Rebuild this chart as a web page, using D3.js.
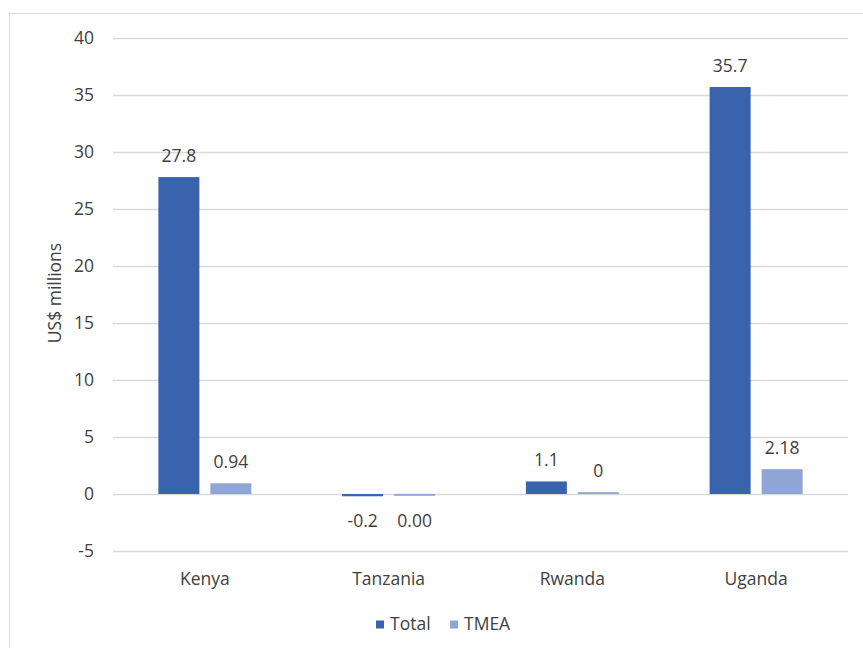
<!DOCTYPE html>
<html>
<head>
<meta charset="utf-8">
<script src="https://cdn.jsdelivr.net/npm/d3@7"></script>
<style>
  html, body { margin: 0; padding: 0; background: #fff; }
  svg { display: block; font-family: "Open Sans", "DejaVu Sans", sans-serif; }
</style>
</head>
<body>
<svg id="chart" width="863" height="648"></svg>
<script>
// Countries on the x axis
const countries = ["Kenya", "Tanzania", "Rwanda", "Uganda"];
// Series values, US$ millions
const totalValues = [27.8, -0.2, 1.1, 35.7];
const tmeaValues = [0.94, -0.004, 0, 2.18];
// Decimal places shown in each data label
const totalDecimals = [1, 1, 1, 1];
const tmeaDecimals = [2, 2, 0, 2];
// Y axis ticks
const yTicks = [-5, 0, 5, 10, 15, 20, 25, 30, 35, 40];
const seriesNames = ["Total", "TMEA"];

const colors = { Total: "#3a63ad", TMEA: "#8fa5d6" };
const textColor = "#404040";
const gridColor = "#d9d9d9";
const fontSize = 17.5;

// Plain hyphen for negatives
const fmt = (d, p) => d3.format(`.${p}f`)(d).replace("\u2212", "-");

const svg = d3.select("#chart");

// Chart frame
svg.append("rect")
  .attr("x", 9.5).attr("y", 13.5)
  .attr("width", 870).attr("height", 660)
  .attr("fill", "none").attr("stroke", "#d9d9d9").attr("stroke-width", 1);

const plot = { left: 113, right: 848, top: 38, bottom: 551 };

const x = d3.scaleBand().domain(countries).range([plot.left, plot.right]);
const y = d3.scaleLinear().domain([-5, 40]).range([plot.bottom, plot.top]);
const inner = d3.scaleBand().domain(seriesNames).range([0, x.bandwidth()])
  .paddingInner(0.2115).paddingOuter(0.8726);

// Gridlines and y tick labels
const yAxis = d3.axisLeft(y).tickValues(yTicks).tickSize(-(plot.right - plot.left))
  .tickPadding(19).tickFormat(d => fmt(d, 0));
const yg = svg.append("g").attr("transform", `translate(${plot.left},0)`).call(yAxis);
yg.select(".domain").remove();
yg.selectAll(".tick line").attr("stroke", gridColor).attr("stroke-width", 1.3);
yg.selectAll(".tick text").attr("fill", textColor).attr("font-size", fontSize)
  .attr("font-family", "Open Sans, sans-serif");

// Y axis title
svg.append("text")
  .attr("transform", "translate(61,293) rotate(-90)")
  .attr("text-anchor", "middle")
  .attr("fill", textColor).attr("font-size", fontSize)
  .text("US$ millions");

// Bars
const rows = countries.map((c, i) => ({
  country: c,
  items: [
    { series: "Total", value: totalValues[i], decimals: totalDecimals[i] },
    { series: "TMEA", value: tmeaValues[i], decimals: tmeaDecimals[i] }
  ]
}));

const groups = svg.append("g").selectAll("g").data(rows).join("g")
  .attr("transform", d => `translate(${x(d.country)},0)`);

const minH = 1.8;
const barH = d => Math.max(Math.abs(y(d.value) - y(0)), minH);
groups.selectAll("rect").data(d => d.items).join("rect")
  .attr("x", d => inner(d.series))
  .attr("width", inner.bandwidth())
  .attr("y", d => d.value < 0 ? y(0) : y(0) - barH(d))
  .attr("height", barH)
  .attr("fill", d => colors[d.series]);

// Data labels
groups.selectAll("text.lbl").data(d => d.items).join("text")
  .attr("class", "lbl")
  .attr("x", d => inner(d.series) + inner.bandwidth() / 2)
  .attr("y", d => d.value < 0 ? y(0) + 33 : y(0) - barH(d) - 15)
  .attr("text-anchor", "middle")
  .attr("fill", textColor).attr("font-size", fontSize)
  .text(d => fmt(d.value, d.decimals));

// Category labels
svg.append("g").selectAll("text").data(countries).join("text")
  .attr("x", d => x(d) + x.bandwidth() / 2)
  .attr("y", 585)
  .attr("text-anchor", "middle")
  .attr("fill", textColor).attr("font-size", fontSize)
  .text(d => d);

// Legend
const legendPos = [376, 450];
const legend = svg.append("g").selectAll("g").data(seriesNames).join("g")
  .attr("transform", (d, i) => `translate(${legendPos[i]},0)`);
legend.append("rect").attr("x", 0).attr("y", 620.5).attr("width", 8).attr("height", 8)
  .attr("fill", d => colors[d]);
legend.append("text").attr("x", 14).attr("y", 630)
  .attr("fill", textColor).attr("font-size", fontSize)
  .text(d => d);
</script>
</body>
</html>
